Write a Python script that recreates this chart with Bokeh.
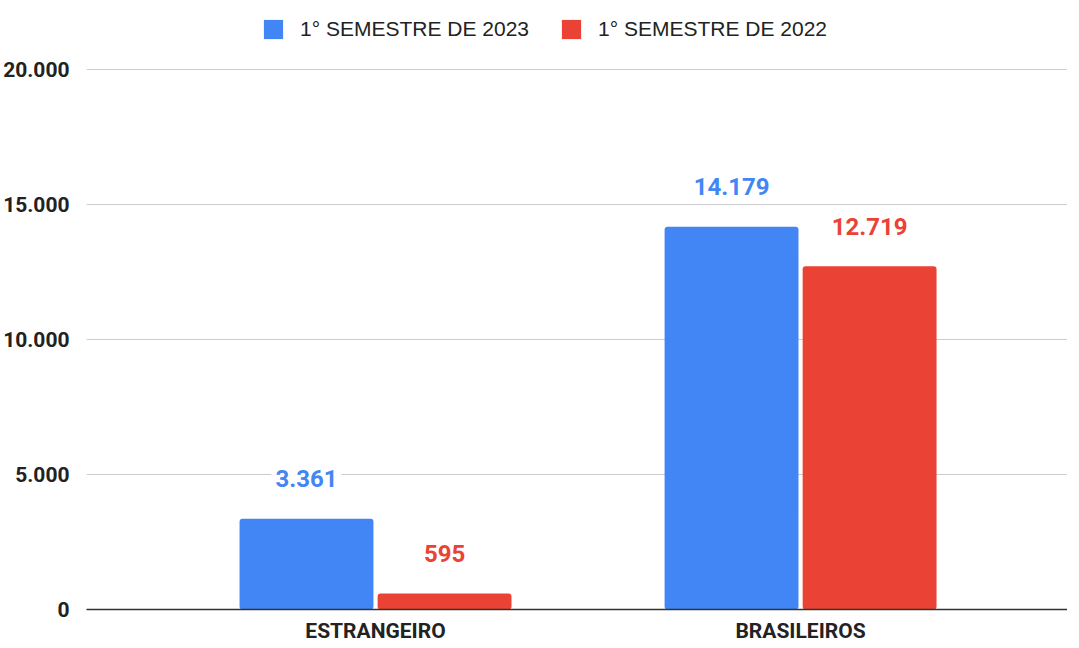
from bokeh.plotting import figure
from bokeh.layouts import column
from bokeh.models import (ColumnDataSource, Range1d, FixedTicker, Legend, LegendItem)
from bokeh.transform import dodge
from bokeh.core.properties import value
from bokeh.embed import file_html
from bokeh.resources import INLINE

# ---- data ----
categories = ["ESTRANGEIRO", "BRASILEIROS"]
series_names = ["1° SEMESTRE DE 2023", "1° SEMESTRE DE 2022"]
values_2023 = [3361, 14179]
values_2022 = [595, 12719]
y_ticks = [0, 5000, 10000, 15000, 20000]

BLUE = "#4285F4"
RED = "#EA4335"


def fmt(v):
    return f"{v:,}".replace(",", ".")


src = ColumnDataSource(dict(
    x=list(range(len(categories))),
    v23=values_2023,
    v22=values_2022,
    t23=[fmt(v) for v in values_2023],
    t22=[fmt(v) for v in values_2022],
))

# ---- legend strip (swatch renderers sit outside the visible range) ----
lf = figure(width=1063, height=47, output_backend="svg", toolbar_location=None,
            x_range=Range1d(0, 1), y_range=Range1d(0, 1), min_border=0,
            x_axis_type=None, y_axis_type=None)
lf.outline_line_color = None
lf.xgrid.grid_line_color = None
lf.ygrid.grid_line_color = None
lr23 = lf.vbar(x=[5], top=[1], width=0.1, fill_color=BLUE, line_color=None, border_radius=3)
lr22 = lf.vbar(x=[5], top=[1], width=0.1, fill_color=RED, line_color=None, border_radius=3)
legend = Legend(items=[LegendItem(label=series_names[0], renderers=[lr23]),
                       LegendItem(label=series_names[1], renderers=[lr22])],
                orientation="horizontal", location=(175, 6),
                label_text_font="Liberation Sans", label_text_font_size="21px",
                label_text_color="#222222", glyph_width=24, glyph_height=24,
                label_standoff=15, spacing=30, padding=0, margin=0,
                border_line_color=None, background_fill_alpha=0)
lf.add_layout(legend)

# ---- main chart ----
p = figure(frame_width=981, frame_height=541, output_backend="svg", toolbar_location=None,
           x_range=Range1d(-0.680, 1.628), y_range=Range1d(0, 20040),
           min_border_left=82, min_border_right=0, min_border_top=21, min_border_bottom=30)

off = 0.1624
w = 0.315
r23 = p.vbar(x=dodge("x", -off), top="v23", width=w, source=src,
             fill_color=BLUE, line_color=None, border_radius=3)
r22 = p.vbar(x=dodge("x", off), top="v22", width=w, source=src,
             fill_color=RED, line_color=None, border_radius=3)

common = dict(text_font=value("Roboto"), text_font_style="bold", text_font_size="24px",
              text_align="center", text_baseline="middle", y_offset=-40,
              background_fill_color="white", padding=4)
p.text(x=dodge("x", -off), y="v23", text="t23", source=src, text_color=BLUE, **common)
p.text(x=dodge("x", off), y="v22", text="t22", source=src, text_color=RED, **common)

p.xaxis.ticker = FixedTicker(ticks=list(range(len(categories))))
p.xaxis.major_label_overrides = {i: c for i, c in enumerate(categories)}
p.xaxis.major_label_text_font = "Roboto"
p.xaxis.major_label_text_font_style = "bold"
p.xaxis.major_label_text_font_size = "21px"
p.xaxis.major_label_text_color = "#222222"
p.xaxis.major_label_standoff = 3
p.xaxis.axis_line_color = "#333333"
p.xaxis.axis_line_width = 1.5
p.xaxis.major_tick_line_color = None
p.xaxis.minor_tick_line_color = None

p.yaxis.ticker = FixedTicker(ticks=y_ticks)
p.yaxis.major_label_overrides = {t: fmt(t) for t in y_ticks}
p.yaxis.major_label_text_font = "Roboto"
p.yaxis.major_label_text_font_style = "bold"
p.yaxis.major_label_text_font_size = "21px"
p.yaxis.major_label_text_color = "#222222"
p.yaxis.major_label_standoff = 11
p.yaxis.axis_line_color = None
p.yaxis.major_tick_line_color = None
p.yaxis.minor_tick_line_color = None

p.xgrid.grid_line_color = None
p.ygrid.grid_line_color = "#cccccc"
p.ygrid.ticker = FixedTicker(ticks=y_ticks)
p.outline_line_color = None

layout = column(lf, p, spacing=0)
open("out.html", "w").write(file_html(layout, INLINE))
